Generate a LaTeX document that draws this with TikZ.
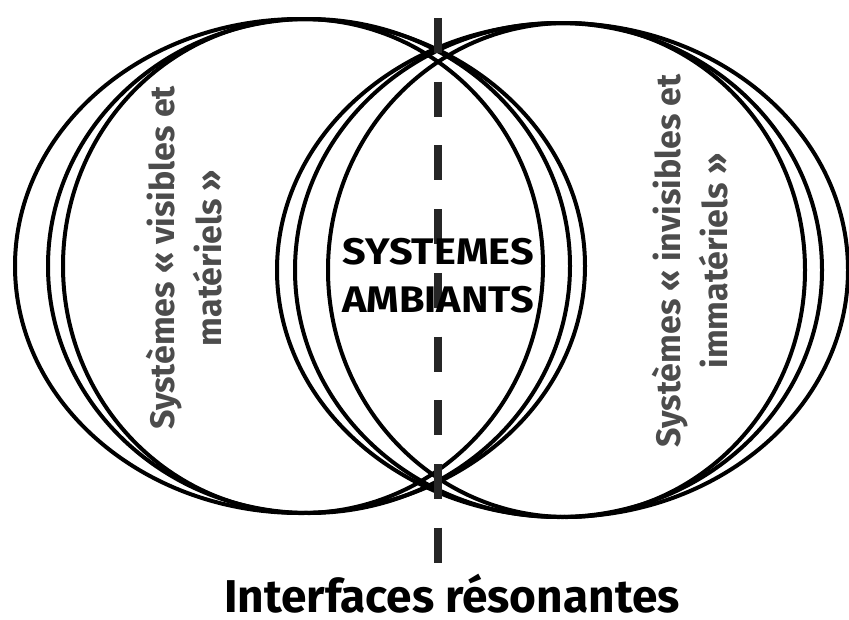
\documentclass[tikz,border=0pt]{standalone}
\usepackage{fontspec}
\newfontfamily\dinfont{Fira Sans}
\newfontfamily\widefont[FakeStretch=1.12]{Fira Sans}
\begin{document}
\begin{tikzpicture}[x=1pt,y=-1pt,line join=round,
    ring/.style={line width=4pt},
    sidelabel/.style={rotate=90,align=center,text=black!70,font=\dinfont\bfseries\fontsize{34}{47}\selectfont},
    mainlabel/.style={align=center,font=\widefont\bfseries\fontsize{37}{48}\selectfont}]
  \useasboundingbox (0,0) rectangle (849,619);
  \foreach \cx/\rx in {300/285,309/261,303/240}
    \draw[ring] (\cx,266) ellipse [x radius=\rx,y radius=247];
  \foreach \cx/\rx in {562.5/285.5,558.5/263.5,566.5/238.5}
    \draw[ring] (\cx,270) ellipse [x radius=\rx,y radius=247];
  \coordinate (top) at (438,18);
  \coordinate (bottom) at (438,563);
  \draw[line width=8pt,black!85,dash pattern=on 35pt off 28.7pt] (top) -- (bottom);
  \node[sidelabel] (visible) at (184,258) {Systèmes « visibles et\\matériels »};
  \node[sidelabel] (invisible) at (690,261) {Systèmes « invisibles et\\immatériels »};
  \node[mainlabel] (ambiant) at (438,276) {SYSTEMES\\AMBIANTS};
  \node[font=\dinfont\bfseries\fontsize{46}{50}\selectfont,anchor=base,inner sep=0pt] (interface) at (452,612) {Interfaces résonantes};
\end{tikzpicture}
\end{document}
